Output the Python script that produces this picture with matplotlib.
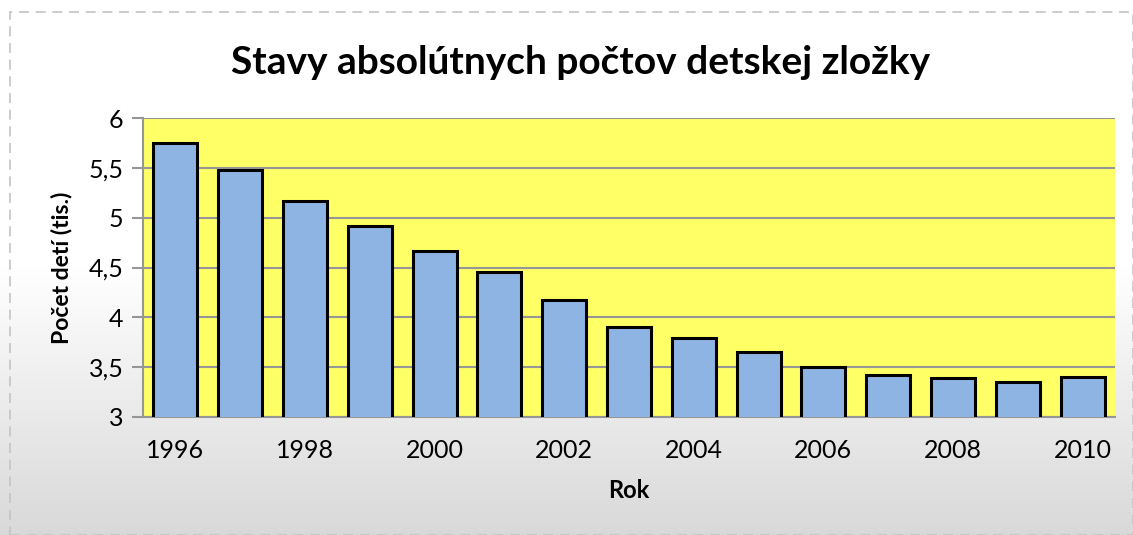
import numpy as np
import matplotlib
matplotlib.use("Agg")
import matplotlib.pyplot as plt
from matplotlib.patches import Rectangle

years = list(range(1996, 2011))
values = [5.75, 5.48, 5.17, 4.92, 4.67, 4.45, 4.17, 3.90, 3.79, 3.65, 3.50, 3.42, 3.39, 3.35, 3.40]
yticks = [3, 3.5, 4, 4.5, 5, 5.5, 6]
ytick_labels = ["3", "3,5", "4", "4,5", "5", "5,5", "6"]
xtick_years = [1996, 1998, 2000, 2002, 2004, 2006, 2008, 2010]

plt.rcParams['font.family'] = ['Lato', 'DejaVu Sans']

fig = plt.figure(figsize=(11.33, 5.35), dpi=100)

# background gradient (vertical: white at top, light grey at bottom)
bg = fig.add_axes([0, 0, 1, 1], zorder=-10)
t = np.linspace(0, 1, 300)  # 0 top -> 1 bottom
g = np.where(t < 0.5, 1.0, 1.0 - (t - 0.5) / 0.5 * 0.15)
img = np.repeat(np.dstack([g, g, g]).reshape(300, 1, 3), 2, axis=1)
bg.imshow(img, aspect='auto', extent=[0, 1, 0, 1], origin='upper')
bg.set_axis_off()
fig.patches.append(Rectangle((10 / 1133, 0), (1133 - 10) / 1133, 1 - 12 / 535, transform=fig.transFigure,
                             fill=False, edgecolor='#c4c4c4', linestyle=(0, (6, 4)), linewidth=1.2))

ax = fig.add_axes([143 / 1133, 1 - 417 / 535, (1115 - 143) / 1133, (417 - 118) / 535])
ax.set_facecolor('#ffff66')
x = np.arange(len(years))
ax.bar(x, values, width=0.68, color='#8eb4e3', edgecolor='black', linewidth=2.2, zorder=3)
ax.set_ylim(3, 6)
ax.set_xlim(-0.5, len(years) - 0.5)
ax.set_yticks(yticks)
ax.set_yticklabels(ytick_labels, fontsize=18)
ax.set_xticks([years.index(y) for y in xtick_years])
ax.set_xticklabels([str(y) for y in xtick_years], fontsize=18)
ax.yaxis.grid(True, color='#969696', linewidth=1.5, zorder=1)
ax.set_axisbelow(True)
for s in ['top', 'right']:
    ax.spines[s].set_visible(False)
ax.spines['left'].set_color('#969696')
ax.spines['left'].set_linewidth(1.5)
ax.spines['bottom'].set_color('#969696')
ax.spines['bottom'].set_linewidth(1.5)
ax.tick_params(axis='y', length=8, width=1.5, color='#969696', pad=6)
ax.tick_params(axis='x', length=0, pad=16)

ax.set_ylabel('Počet detí (tis.)', fontsize=16.5, fontweight='bold', labelpad=12)
ax.set_xlabel('Rok', fontsize=17, fontweight='bold', labelpad=12)
fig.text(0.512, 1 - 62 / 535, 'Stavy absolútnych počtov detskej zložky', ha='center', va='center',
         fontsize=28, fontweight='bold')

fig.savefig('out.png', dpi=100)
